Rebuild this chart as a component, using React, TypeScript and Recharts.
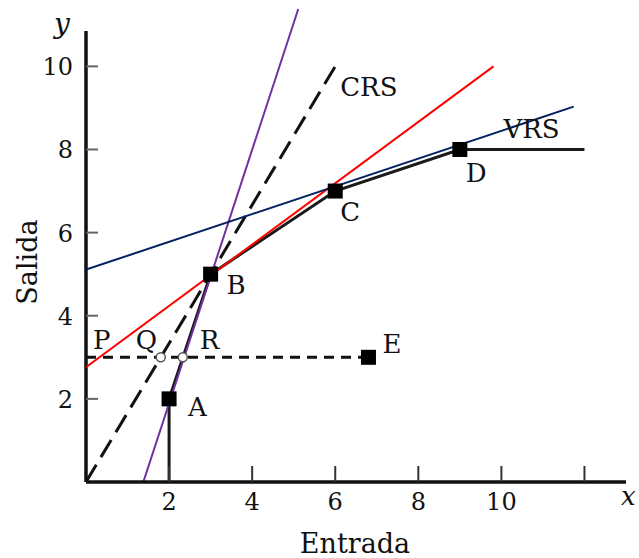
import React from 'react';
import { ComposedChart, Line, Scatter, XAxis, YAxis, ReferenceLine } from 'recharts';

// frontier and reference lines (input x, output y)
const frontier = [
  { x: 2, y: 0 },
  { x: 2, y: 2 },
  { x: 3, y: 5 },
  { x: 6, y: 7 },
  { x: 9, y: 8 },
  { x: 12, y: 8 },
];
const crsLine = [{ x: 0, y: 0 }, { x: 6, y: 10 }];
const purpleLine = [{ x: 1.38, y: 0 }, { x: 5.11, y: 11.38 }];
const redLine = [{ x: 0, y: 2.76 }, { x: 9.81, y: 10 }];
const blueLine = [{ x: 0, y: 5.11 }, { x: 11.74, y: 9.03 }];
const targetLine = [{ x: 0, y: 3 }, { x: 6.8, y: 3 }];

const units = [
  { name: 'A', x: 2, y: 2 },
  { name: 'B', x: 3, y: 5 },
  { name: 'C', x: 6, y: 7 },
  { name: 'D', x: 9, y: 8 },
  { name: 'E', x: 6.8, y: 3 },
];
const projections = [
  { name: 'Q', x: 1.8, y: 3 },
  { name: 'R', x: 2.33, y: 3 },
];
const tags = [
  { name: 'P', x: 0, y: 3 },
  { name: 'CRS', x: 6, y: 10 },
  { name: 'VRS', x: 12, y: 8 },
];

const xTicks = [2, 4, 6, 8, 10, 12];
const yTicks = [2, 4, 6, 8, 10];

const FONT = '"DejaVu Serif", serif';

// pixel offsets of each text label from its point
const labelOffset: Record<string, [number, number]> = {
  A: [19, 17], B: [16, 20], C: [5, 30], D: [6, 33], E: [14, -4],
  P: [7, -8], Q: [-25, -8], R: [17, -8], CRS: [5, 30], VRS: [-81, -11],
};

const PointText = ({ cx, cy, name }: { cx: number; cy: number; name: string }) => {
  const off = labelOffset[name] || [0, 0];
  return (
    <text x={cx + off[0]} y={cy + off[1]} fontFamily={FONT} fontSize={26} fill="#111">
      {name}
    </text>
  );
};

const SquareShape = (props: any) => {
  const { cx, cy } = props;
  const name = props.payload?.name ?? props.name;
  return (
    <g>
      <rect x={cx - 7.5} y={cy - 7.5} width={15} height={15} fill="#000" />
      <PointText cx={cx} cy={cy} name={name} />
    </g>
  );
};

const CircleShape = (props: any) => {
  const { cx, cy } = props;
  const name = props.payload?.name ?? props.name;
  return (
    <g>
      <circle cx={cx} cy={cy} r={4.5} fill="#fff" stroke="#555" strokeWidth={1.5} />
      <PointText cx={cx} cy={cy} name={name} />
    </g>
  );
};

const TextShape = (props: any) => {
  const name = props.payload?.name ?? props.name;
  return <PointText cx={props.cx} cy={props.cy} name={name} />;
};

const XTick = (props: any) => {
  const { x, y, payload } = props;
  return (
    <g>
      <line x1={x} x2={x} y1={y} y2={y - 16} stroke="#333" strokeWidth={2} />
      {payload.value !== 12 && (
        <text x={x} y={y + 28} textAnchor="middle" fontFamily={FONT} fontSize={24} fill="#111">
          {payload.value}
        </text>
      )}
    </g>
  );
};

const YTick = (props: any) => {
  const { x, y, payload } = props;
  return (
    <g>
      <line x1={x} x2={x + 12} y1={y} y2={y} stroke="#666" strokeWidth={2} />
      <text x={x - 13} y={y + 9} textAnchor="end" fontFamily={FONT} fontSize={24} fill="#111">
        {payload.value}
      </text>
    </g>
  );
};

export default function App() {
  return (
    <div style={{ position: 'absolute', left: 0, top: 0, background: '#fff' }}>
      <ComposedChart width={639} height={558} margin={{ top: 4, right: 13, bottom: 0, left: 0 }}>
        <XAxis
          type="number"
          dataKey="x"
          domain={[0, 13]}
          ticks={xTicks}
          interval={0}
          height={76}
          tickSize={0}
          tickMargin={0}
          tickLine={false}
          axisLine={{ stroke: '#111', strokeWidth: 3.5 }}
          tick={XTick}
          allowDataOverflow
        />
        <YAxis
          type="number"
          dataKey="y"
          domain={[0, 11.5]}
          ticks={yTicks}
          interval={0}
          width={86}
          tickSize={0}
          tickMargin={0}
          tickLine={false}
          axisLine={false}
          tick={YTick}
          allowDataOverflow
        />
        <ReferenceLine segment={[{ x: 0, y: 0 }, { x: 0, y: 10.85 }]} stroke="#111" strokeWidth={3.5} />

        <Line data={frontier} dataKey="y" stroke="#1a1a1a" strokeWidth={3} dot={false} activeDot={false} isAnimationActive={false} />
        <Line data={crsLine} dataKey="y" stroke="#111" strokeWidth={3} strokeDasharray="20 9" dot={false} activeDot={false} isAnimationActive={false} />
        <Line data={targetLine} dataKey="y" stroke="#111" strokeWidth={3} strokeDasharray="10 7" dot={false} activeDot={false} isAnimationActive={false} />

        <Scatter data={units} shape={SquareShape} isAnimationActive={false} />
        <Scatter data={projections} shape={CircleShape} isAnimationActive={false} />
        <Scatter data={tags} shape={TextShape} isAnimationActive={false} />

        <Line data={purpleLine} dataKey="y" stroke="#7030a0" strokeWidth={2} dot={false} activeDot={false} isAnimationActive={false} />
        <Line data={redLine} dataKey="y" stroke="#ff0000" strokeWidth={2} dot={false} activeDot={false} isAnimationActive={false} />
        <Line data={blueLine} dataKey="y" stroke="#002060" strokeWidth={2} dot={false} activeDot={false} isAnimationActive={false} />

        <text x={54} y={33} fontFamily={FONT} fontStyle="italic" fontSize={28} fill="#111">y</text>
        <text x={621} y={505} fontFamily={FONT} fontStyle="italic" fontSize={26} fill="#111">x</text>
        <text x={355} y={553} textAnchor="middle" fontFamily={FONT} fontSize={27} fill="#111">Entrada</text>
        <text x={37} y={262} textAnchor="middle" transform="rotate(-90, 37, 262)" fontFamily={FONT} fontSize={27} fill="#111">
          Salida
        </text>
      </ComposedChart>
    </div>
  );
}
